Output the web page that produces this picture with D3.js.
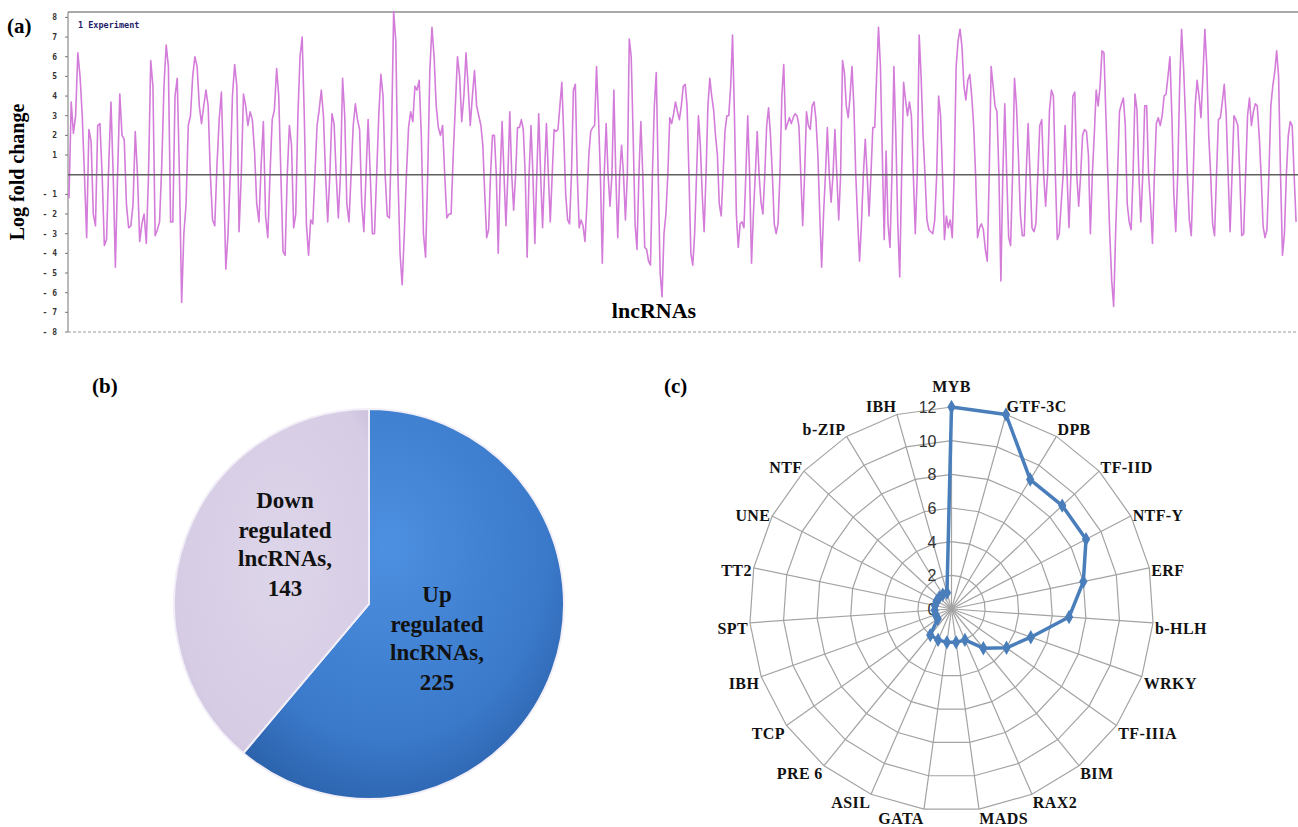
<!DOCTYPE html>
<html>
<head>
<meta charset="utf-8">
<script src="https://cdn.jsdelivr.net/npm/d3@7"></script>
<style>
    body { margin: 0; background: #ffffff; }
    svg { display: block; }
    .serif { font-family: "Liberation Serif", "Times New Roman", serif; font-weight: bold; }
</style>
</head>
<body>
<div id="figure"></div>
<script>
// ---------------- Data ----------------

// (a) log fold change of each lncRNA, read left to right in six stretches
var lncPart1 = [-1.2, 3.7, 2.1, 3.0, 6.2, 5, 3, 0, -3.2, 2.3,
    1.7, -2.0, -2.6, 2.5, 2.6, 0, -3.6, -3.3, 0.5, 3.7,
    0, -4.7, 0, 4.1, 2.0, 1.8, -1.5, -2.7, -2.6, -1.5,
    2.2, 0, -3.4, -2.5, -2.0, -3.5, 0, 5.8, 4.5, -3.1,
    -2.8, -2.4, 0.5, 4.5, 6.6, 5.5, -2.4, -2.4, 4.0, 4.9,
    0, -6.5, -3, -1.5, 2.5, 3, 5, 6.0, 5.5, 3.5,
    2.6, 3.5, 4.3, 3.5, 0, -2.3, -2.6, 0.5, 2.8, 4.2,
    0, -4.8, -3.0, 0, 4.0, 5.6, 4.5, -2.9, 0, 4.1,
    3.5, 2.5, 3.2, 2.8, 1.2, -1.5, -2.4, 0.5, 2.7, -2.1,
    -3.2, 0, 2.8, 3.3];
var lncPart2 = [5.4, 4, 0, -3.9, -4.1, 0, 2.5, 1.5, -2.7, -2.0,
    3, 6.0, 7.0, 3, -2.5, -4.1, -2.3, -2.5, 0, 2.5,
    3.3, 4.3, 3.0, 0, -2.4, 0, 3.1, 2.6, 0, -2.2,
    0, 4.9, 3, -1.5, -2.4, 0, 2.5, 3.6, 2.8, 2.3,
    -1.5, -2.9, 0, 2.8, 0, -3.0, -3.0, 0, 3, 5.1,
    4, 0, -2.1, -2.2, 2, 8.3, 6.8, 0, -4.0, -5.6,
    -3, 0, 2.4, 3.2, 2.7, 4.5, 4.3, 4.8, 2, -3.0,
    -4.2, 0, 5.3, 7.5, 6, 3.5, 2.4, 2.0, 2.5, 0,
    -2.2, -2.0, -2.0, 1, 3.5, 6.0, 5.0, 2.7, 4, 6.2,
    4.5, 2.5, 4.0, 5.3, 3.5, 3];
var lncPart3 = [2.5, 1.5, -1, -3.2, -2.8, 0, 2, 2.0, 0, -4.0,
    0, 2.7, 0, -2.6, 0, 3.2, 0, -1.8, 0, 2.4,
    2.4, 2.8, 2.3, 0, -4.2, 0, 2.5, 0, -3.5, 0,
    3.1, 0, -2.7, 0, 2.6, 0, -2.4, 0, 2.3, 2.2,
    2.3, 3.5, 4.7, 2, -1, -2.3, -2.5, 0, 4.3, 4.6,
    0, -2.7, -2.3, -2.6, -3.4, -1.5, 1, 2.2, 2.4, 2.5,
    5.5, 3, 0, -4.5, 0, 2.6, 0, -1.6, 0, 4.3,
    0, -3.2, 0, 1.5, 0, -2.3, 0, 6.9, 6.0, 2,
    -2.5, -3.8, 0, 2.7, 0, -3.7, -3.8, -4.4, -4.6, 0,
    3.5, 5.2, 0, -5, -6.2, -3, -2, 0, 2.9, 2.6,
    3.1, 3.7, 3.2, 2.8, 3.5, 4.5];
var lncPart4 = [4.6, 3.5, 0, -4.0, -4.6, -3, 0, 3.0, 1.5, -1,
    -2.9, 0, 3.5, 4.9, 4.0, 3.3, 2.0, 1, -1.5, -2.1,
    0, 2.2, 3.0, 3.0, 4.5, 7.1, 3, -2, -3.7, -2.5,
    -2.4, -2.7, 0, 3.0, 0, -4.5, -2, 0, 2.2, 0,
    -1.4, -2.0, 0, 2.5, 3.4, 2, 0, -2.5, -3.0, -2.5,
    0, 4, 5.6, 2.3, 2.6, 2.9, 2.6, 2.9, 3.1, 3.0,
    2.5, 0, -2.6, 0, 3.2, 2.5, 2.3, 3.5, 3.7, 2.8,
    1, -2, -4.7, -2, 0, 2.4, 0, -1.4, 0, 2.3,
    0, -2.3, 0, 5.8, 5.2, 3.5, 2.9, 4, 5.5, 3.5,
    0, -2.3, -4.4, -2.5, 0, 1.8, 0, -2.1, 0, 2.4,
    2.4, 5, 7.5, 5.5, 1, -3.3];
var lncPart5 = [1.2, -2.5, -3.7, 0, 5.5, 2, -2.5, -5.2, 0, 4.7,
    3.8, 3.0, 3.7, 3.0, 0, -3.0, 0, 7.1, 5, 2,
    0, -2.3, -2.8, -2.9, -3.0, -2.3, 0, 4.0, 3, 0,
    -3.3, -2.1, -2.7, -2.3, -3.2, 0, 5.5, 6.8, 7.4, 6.5,
    4.5, 3.8, 4.8, 5.1, 4, 2.5, 0, -3.2, -2.7, -2.5,
    -2.8, -3.8, -4.4, 0, 5.5, 4.5, 3.5, 3.2, 0, -5.4,
    0, 3.6, 0, -3.2, -3.6, 0, 4.9, 3.5, 1, -2,
    -3.1, -3.1, 0, 2.6, 0, -2.7, -2.9, -2.5, 0, 2.5,
    2.8, 0, -1.6, 0, 3.3, 4.3, 4.0, 0, -3.3, -3.0,
    -1.5, 0, 2.5, 0, -2.7, 0, 4.0, 4.2, 0, -1.6,
    0, 2, 2.3, 2.2, 1];
var lncPart6 = [-3.0, 0, 2, 4.3, 3.5, 4.5, 6.3, 6.2, 3, 0,
    -3.0, -5.4, -6.7, -3, 0, 3.2, 3.6, 3.9, 2.5, -1.5,
    -2.4, -2.8, 0, 4.1, 3.3, 0, -2.4, 0, 3.5, 3.5,
    0, -1.5, -3.5, 0, 2.6, 2.9, 2.5, 3, 4.0, 4.1,
    5, 6.0, 3, -1, -2.9, 0, 4.5, 7.4, 5.5, 3,
    0, -2.3, -3.1, 0, 3.5, 4.8, 4, 2.9, 5, 7.4,
    5.5, 2, 0, -2.5, -3.1, 0, 2.8, 2.9, 3.7, 4.6,
    3, 0, -2.9, 0, 3.0, 2.8, 2.5, 0, -3.1, -3.0,
    0, 3.0, 3.9, 2.5, 3.2, 3.6, 3.5, 2, 0, -2.6,
    -3.2, -2.8, 0, 3.5, 4.5, 5.2, 6.3, 5, 0, -4.1,
    -3, 0, 2, 2.7, 2.5, 0, -2.4];
var lncParts = [lncPart1, lncPart2, lncPart3, lncPart4, lncPart5, lncPart6];
// where each stretch starts along the lncRNA axis (368 lncRNAs in all)
var partStarts = [0, 62, 123, 184, 244, 305, 367];
var foldTicks = [8, 7, 6, 5, 4, 3, 2, 1, -1, -2, -3, -4, -5, -6, -7, -8];

// (b) regulation counts
var regLabels = [["Up", "regulated", "lncRNAs,", "225"], ["Down", "regulated", "lncRNAs,", "143"]];
var regCounts = [225, 143];

// (c) transcription factor families
var tfFamilies = ["MYB", "GTF-3C", "DPB", "TF-IID", "NTF-Y", "ERF", "b-HLH", "WRKY", "TF-IIIA",
    "BIM", "RAX2", "MADS", "GATA", "ASIL", "PRE 6", "TCP", "IBH", "SPT", "TT2", "UNE", "NTF", "b-ZIP", "IBH"];
var tfCounts = [12, 12, 9, 9, 9, 8, 7, 5, 4, 3, 2, 2, 2, 2, 2, 1, 1, 1, 1, 1, 1, 1, 1];
var radarTicks = [0, 2, 4, 6, 8, 10, 12];

// ---------------- Canvas ----------------
var svgWidth = 1298;
var svgHeight = 827;

var svg = d3.select("#figure")
    .append("svg")
    .attr("width", svgWidth)
    .attr("height", svgHeight);

svg.append("rect")
    .attr("width", svgWidth)
    .attr("height", svgHeight)
    .attr("fill", "#ffffff");

// ---------------- (a) line chart ----------------
var lineArea = { left: 68, right: 1298, top: 12, bottom: 332 };

var xLine = d3.scaleLinear()
    .domain([0, 367])
    .range([lineArea.left + 1, 1298]);

var yLine = d3.scaleLinear()
    .domain([-8, 8])
    .range([332, 17.4]);

// spread each stretch evenly over its part of the axis
var foldPoints = [];
lncParts.forEach(function (part, k) {
    var a = partStarts[k], b = partStarts[k + 1];
    part.forEach(function (v, j) {
        foldPoints.push({ pos: a + (b - a) * j / part.length, value: v });
    });
});

var panelA = svg.append("g");

// frame: top and left lines, dotted bottom
panelA.append("line")
    .attr("x1", lineArea.left).attr("x2", lineArea.right)
    .attr("y1", lineArea.top).attr("y2", lineArea.top)
    .attr("stroke", "#8c8c8c").attr("stroke-width", 1.5);
panelA.append("line")
    .attr("x1", lineArea.left).attr("x2", lineArea.left)
    .attr("y1", lineArea.top).attr("y2", lineArea.bottom)
    .attr("stroke", "#8c8c8c").attr("stroke-width", 1.2);
panelA.append("line")
    .attr("x1", lineArea.left).attr("x2", lineArea.right)
    .attr("y1", lineArea.bottom).attr("y2", lineArea.bottom)
    .attr("stroke", "#9a9a9a").attr("stroke-width", 1)
    .attr("stroke-dasharray", "3,2");

// small ticks and labels on the left axis
panelA.selectAll(".ytick")
    .data(foldTicks)
    .enter()
    .append("line")
    .attr("x1", lineArea.left - 3).attr("x2", lineArea.left)
    .attr("y1", d => yLine(d)).attr("y2", d => yLine(d))
    .attr("stroke", "#777").attr("stroke-width", 1);

panelA.selectAll(".ylabel")
    .data(foldTicks)
    .enter()
    .append("text")
    .attr("x", 57)
    .attr("y", d => yLine(d) + 3)
    .attr("text-anchor", "end")
    .attr("font-family", "DejaVu Sans Mono, monospace")
    .attr("font-weight", "bold")
    .attr("font-size", 8)
    .attr("fill", "#333")
    .text(d => d < 0 ? "- " + (-d) : d);

// the lncRNA trace
var foldLine = d3.line()
    .x(d => xLine(d.pos))
    .y(d => yLine(d.value));

panelA.append("path")
    .datum(foldPoints)
    .attr("d", foldLine)
    .attr("fill", "none")
    .attr("stroke", "#d47cda")
    .attr("stroke-width", 1.6)
    .attr("stroke-linejoin", "round");

// zero line on top
panelA.append("line")
    .attr("x1", lineArea.left).attr("x2", lineArea.right)
    .attr("y1", yLine(0)).attr("y2", yLine(0))
    .attr("stroke", "#5f5f5f").attr("stroke-width", 1.6);

panelA.append("text")
    .attr("x", 78).attr("y", 28)
    .attr("font-family", "DejaVu Sans Mono, monospace")
    .attr("font-weight", "bold")
    .attr("font-size", 8.5)
    .attr("fill", "#1c1c6b")
    .text("1 Experiment");

panelA.append("text")
    .attr("class", "serif")
    .attr("x", 7).attr("y", 33)
    .attr("font-size", 21)
    .text("(a)");

panelA.append("text")
    .attr("class", "serif")
    .attr("transform", "translate(24, 172) rotate(-90)")
    .attr("text-anchor", "middle")
    .attr("font-size", 20)
    .text("Log fold change");

panelA.append("text")
    .attr("class", "serif")
    .attr("x", 654).attr("y", 318)
    .attr("text-anchor", "middle")
    .attr("font-size", 22)
    .text("lncRNAs");

// ---------------- (b) pie chart ----------------
var pieCenter = { x: 369, y: 604 };
var pieRadius = 195;

var defs = svg.append("defs");

var blueGrad = defs.append("radialGradient")
    .attr("id", "blueGrad")
    .attr("cx", "45%").attr("cy", "35%").attr("r", "70%");
blueGrad.append("stop").attr("offset", "0%").attr("stop-color", "#4d8fe0");
blueGrad.append("stop").attr("offset", "70%").attr("stop-color", "#3b7acb");
blueGrad.append("stop").attr("offset", "100%").attr("stop-color", "#2b62ab");

var lilacGrad = defs.append("radialGradient")
    .attr("id", "lilacGrad")
    .attr("cx", "55%").attr("cy", "45%").attr("r", "65%");
lilacGrad.append("stop").attr("offset", "0%").attr("stop-color", "#ddd5ea");
lilacGrad.append("stop").attr("offset", "85%").attr("stop-color", "#d6cce4");
lilacGrad.append("stop").attr("offset", "100%").attr("stop-color", "#cbbfdc");

var pieColors = ["url(#blueGrad)", "url(#lilacGrad)"];

var pie = d3.pie().sort(null);
var arc = d3.arc().innerRadius(0).outerRadius(pieRadius);

var panelB = svg.append("g")
    .attr("transform", `translate(${pieCenter.x}, ${pieCenter.y})`);

panelB.selectAll("path")
    .data(pie(regCounts))
    .enter()
    .append("path")
    .attr("d", arc)
    .attr("fill", (d, i) => pieColors[i])
    .attr("stroke", "#f3eff8")
    .attr("stroke-width", 2);

// label blocks (offset from the pie centre)
var labelSpots = [{ x: 68, y: -2 }, { x: -84, y: -96 }];
var labelLines = [0, 30, 58, 88];

regLabels.forEach(function (lines, i) {
    var block = panelB.append("text")
        .attr("class", "serif")
        .attr("text-anchor", "middle")
        .attr("font-size", 23)
        .attr("fill", "#111");
    lines.forEach(function (line, j) {
        block.append("tspan")
            .attr("x", labelSpots[i].x)
            .attr("y", labelSpots[i].y + labelLines[j])
            .text(line);
    });
});

svg.append("text")
    .attr("class", "serif")
    .attr("x", 92).attr("y", 393)
    .attr("font-size", 21)
    .text("(b)");

// ---------------- (c) radar chart ----------------
var radarCenter = { x: 951.5, y: 609 };
var radarRadius = 202;
var step = 2 * Math.PI / tfFamilies.length;

var rScale = d3.scaleLinear()
    .domain([0, 12])
    .range([0, radarRadius]);

function radarPoint(i, r) {
    var a = i * step;
    return [r * Math.sin(a), -r * Math.cos(a)];
}

var panelC = svg.append("g")
    .attr("transform", `translate(${radarCenter.x}, ${radarCenter.y})`);

// ring polygons
panelC.selectAll(".ring")
    .data(radarTicks.filter(d => d > 0))
    .enter()
    .append("polygon")
    .attr("points", d => tfFamilies.map((f, i) => radarPoint(i, rScale(d)).join(",")).join(" "))
    .attr("fill", "none")
    .attr("stroke", "#a3a3a3")
    .attr("stroke-width", 1.2);

// spokes
panelC.selectAll(".spoke")
    .data(tfFamilies)
    .enter()
    .append("line")
    .attr("x1", 0).attr("y1", 0)
    .attr("x2", (d, i) => radarPoint(i, rScale(12))[0])
    .attr("y2", (d, i) => radarPoint(i, rScale(12))[1])
    .attr("stroke", "#a3a3a3")
    .attr("stroke-width", 1.2);

// tick values
panelC.selectAll(".rlabel")
    .data(radarTicks)
    .enter()
    .append("text")
    .attr("x", -15)
    .attr("y", d => -rScale(d) + 6)
    .attr("text-anchor", "end")
    .attr("font-family", "Liberation Sans, Arial, sans-serif")
    .attr("font-size", 16)
    .attr("fill", "#333")
    .text(d => d);

// series
var radarLine = d3.lineRadial()
    .angle((d, i) => i * step)
    .radius(d => rScale(d))
    .curve(d3.curveLinearClosed);

panelC.append("path")
    .datum(tfCounts)
    .attr("d", radarLine)
    .attr("fill", "none")
    .attr("stroke", "#4a7ebb")
    .attr("stroke-width", 3.5)
    .attr("stroke-linejoin", "round");

panelC.selectAll(".marker")
    .data(tfCounts)
    .enter()
    .append("path")
    .attr("d", d3.symbol().type(d3.symbolDiamond).size(60))
    .attr("transform", (d, i) => `translate(${radarPoint(i, rScale(d)).join(",")})`)
    .attr("fill", "#4a7ebb");

// category labels sit just outside the outer ring
var labelRadius = 204;
panelC.selectAll(".cat")
    .data(tfFamilies)
    .enter()
    .append("text")
    .attr("class", "serif")
    .attr("font-size", 16)
    .attr("letter-spacing", 0.4)
    .attr("fill", "#111")
    .attr("x", (d, i) => radarPoint(i, labelRadius)[0])
    .attr("y", function (d, i) {
        var c = Math.cos(i * step);
        var shift;
        if (i === 0) shift = -13;
        else if (c > 0) shift = 11 - 12 * c;
        else shift = 11 - 1.5 * c;
        return radarPoint(i, labelRadius)[1] + shift;
    })
    .attr("text-anchor", function (d, i) {
        var s = Math.sin(i * step);
        if (Math.abs(s) < 0.05) return "middle";
        return s > 0 ? "start" : "end";
    })
    .text(d => d);

svg.append("text")
    .attr("class", "serif")
    .attr("x", 664).attr("y", 393)
    .attr("font-size", 21)
    .text("(c)");
</script>
</body>
</html>
